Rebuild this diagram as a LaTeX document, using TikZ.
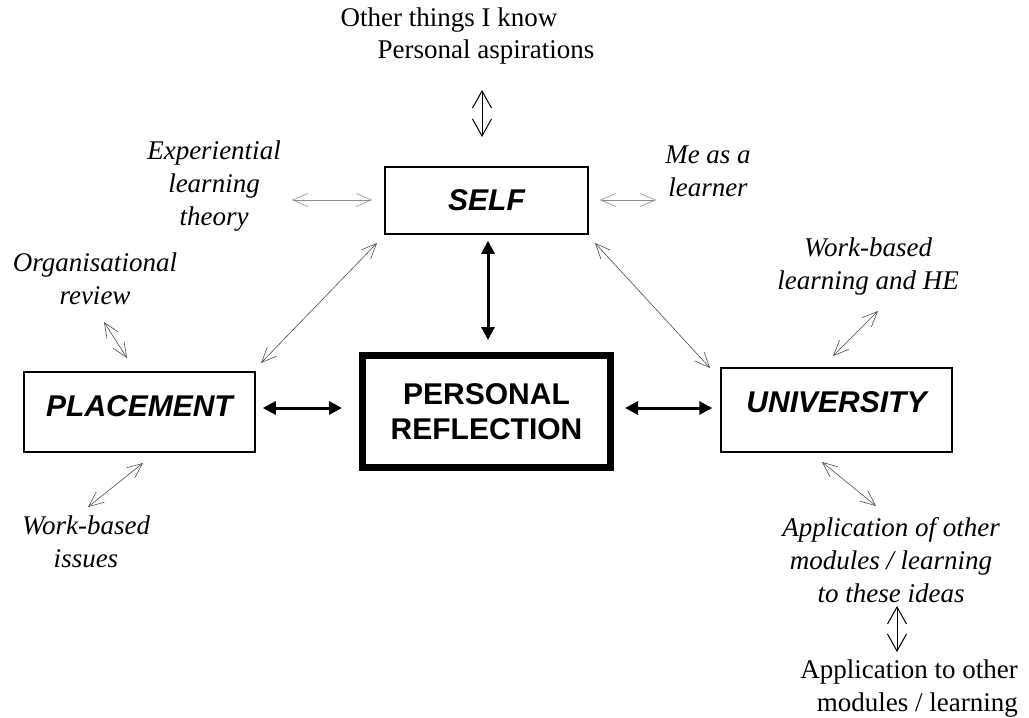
\documentclass[tikz,border=0pt]{standalone}
\usepackage{fontspec}
\setmainfont{Liberation Serif}
\setsansfont{Liberation Sans}
\usetikzlibrary{arrows.meta}
\begin{document}
\begin{tikzpicture}[x=1pt,y=-1pt,
  lbl/.style={font=\fontsize{27}{33}\selectfont\itshape, align=center, inner sep=0pt, anchor=north},
  plainlbl/.style={font=\fontsize{27}{33}\selectfont, align=center, inner sep=0pt},
  boxnode/.style={draw, line width=1.5pt, font=\fontsize{30}{35}\selectfont\sffamily\bfseries\itshape, inner sep=0pt, align=center},
  thinarrow/.style={draw=black!70, line width=0.6pt, {Straight Barb[length=15pt,width=13pt]}-{Straight Barb[length=15pt,width=13pt]}},
  lightarrow/.style={draw=black!45, line width=0.6pt, {Straight Barb[length=15pt,width=13pt]}-{Straight Barb[length=15pt,width=13pt]}},
  vertarrow/.style={draw=black, line width=1pt, {Straight Barb[length=17pt,width=19pt]}-{Straight Barb[length=17pt,width=19pt]}},
  thickarrow/.style={draw=black, line width=3pt, {Triangle[length=13pt,width=13pt]}-{Triangle[length=13pt,width=13pt]}}
]
\useasboundingbox (0,0) rectangle (1029,718);

% boxes
\node[boxnode, minimum width=203pt, minimum height=67pt] (self) at (486.5,200.5) {SELF};
\node[boxnode, line width=7pt, minimum width=248pt, minimum height=112pt, font=\fontsize{30}{35}\selectfont\sffamily\bfseries] (pr) at (486.5,411.5) {PERSONAL\\REFLECTION};
\node[boxnode, minimum width=231pt, minimum height=80pt, text depth=12pt] (plac) at (139.5,412) {PLACEMENT};
\node[boxnode, minimum width=231pt, minimum height=84pt, text depth=15pt] (univ) at (836.5,410) {UNIVERSITY};

% labels
\node[plainlbl, anchor=base] (oth1) at (449,26) {Other things I know};
\node[plainlbl, anchor=base] (oth2) at (486,58) {Personal aspirations};
\node[lbl] (exp) at (214,141) {Experiential\\learning\\theory};
\node[lbl] (me) at (708,146) {Me as a\\learner};
\node[lbl] (org) at (95,253) {Organisational\\review};
\node[lbl] (wblhe) at (868,238) {Work-based\\learning and HE};
\node[lbl] (wbi) at (86,516) {Work-based\\issues};
\node[lbl] (appof) at (891,517) {Application of other\\modules / learning\\to these ideas};
\node[plainlbl, anchor=north east, align=right] (appto) at (1018,660) {Application to other\\modules / learning};

% coordinates for free ends
\coordinate (topA) at (482,90);
\coordinate (topB) at (482,137);
\coordinate (expA) at (292,200);
\coordinate (expB) at (372,200);
\coordinate (meA) at (600,200);
\coordinate (meB) at (656,200);
\coordinate (slA) at (377,243);
\coordinate (slB) at (261,363);
\coordinate (suA) at (595,243);
\coordinate (suB) at (710,368);
\coordinate (orgA) at (104,322);
\coordinate (orgB) at (127,358);
\coordinate (wbA) at (878,311);
\coordinate (wbB) at (833,356);
\coordinate (wiA) at (143,463);
\coordinate (wiB) at (88,507);
\coordinate (apA) at (822,462);
\coordinate (apB) at (876,506);
\coordinate (btA) at (897,606);
\coordinate (btB) at (897,652);

% arrows
\draw[vertarrow] (topA) -- (topB);
\draw[lightarrow] (expA) -- (expB);
\draw[lightarrow] (meA) -- (meB);
\draw[thinarrow] (slA) -- (slB);
\draw[thinarrow] (suA) -- (suB);
\draw[thinarrow] (orgA) -- (orgB);
\draw[thinarrow] (wbA) -- (wbB);
\draw[thinarrow] (wiA) -- (wiB);
\draw[thinarrow] (apA) -- (apB);
\draw[vertarrow] (btA) -- (btB);
\draw[thickarrow, shorten <=6pt, shorten >=12pt] ([xshift=1.5pt]self.south) -- ([xshift=1.5pt]pr.north);
\draw[thickarrow, shorten <=7pt, shorten >=17pt] (plac.east |- 0,408) -- (pr.west |- 0,408);
\draw[thickarrow, shorten <=11pt, shorten >=8pt] (pr.east |- 0,408) -- (univ.west |- 0,408);
\end{tikzpicture}
\end{document}
